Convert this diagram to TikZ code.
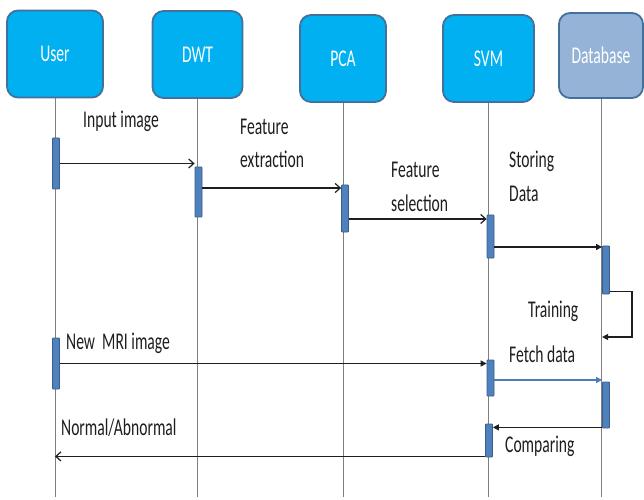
\documentclass[tikz,border=0pt]{standalone}
\usepackage{fontspec}
\setmainfont{Carlito}[FakeStretch=0.65]
\usetikzlibrary{arrows.meta}

\definecolor{boxcyan}{HTML}{00B0F0}
\definecolor{boxedge}{HTML}{41719C}
\definecolor{dbfill}{HTML}{95B3D7}
\definecolor{barfill}{HTML}{4F81BD}
\definecolor{baredge}{HTML}{385D8A}
\definecolor{fetchblue}{HTML}{4A7EBB}
\definecolor{ink}{HTML}{1E1E1E}
\definecolor{lifegray}{HTML}{7F7F7F}

\begin{document}
\begin{tikzpicture}[x=1bp,y=-1bp,
  txt/.style={font=\fontsize{24bp}{28bp}\selectfont},
  actor/.style={txt,draw=boxedge,line width=1.8bp,fill=boxcyan,text=white,
    rounded corners=11bp,inner sep=0pt,minimum height=87bp},
  dbactor/.style={actor,fill=dbfill},
  life/.style={draw=lifegray,line width=1bp},
  actbar/.style={draw=baredge,fill=barfill,line width=0.8bp,rounded corners=0.8bp,
    inner sep=0pt,minimum width=7bp},
  msg/.style={draw=ink,line width=1.2bp,-{Straight Barb[length=5bp,width=9bp]}},
  msgf/.style={draw=ink,line width=1.2bp,-{Triangle[length=6bp,width=6bp]}},
  fetch/.style={draw=fetchblue,line width=1.2bp,-{Triangle[length=6bp,width=6bp]}},
  lbl/.style={txt,text=ink,anchor=base west,inner sep=0pt}]

\useasboundingbox (0,0) rectangle (644,500);

% participants
\node[actor,minimum width=96bp] (User) at (55,54) {User};
\node[actor,minimum width=90bp] (DWT) at (197.5,54.5) {DWT};
\node[actor,minimum width=86bp] (PCA) at (343,58.5) {PCA};
\node[actor,minimum width=91bp] (SVM) at (488.5,58.5) {SVM};
\node[dbactor,minimum width=84bp,minimum height=85bp] (DB) at (601,55.5) {Database};

% lifelines
\coordinate (bottom) at (0,497);
\foreach \p in {User,DWT,PCA,SVM,DB}
  \draw[life] (\p.south) -- (\p.south |- bottom);

% activation bars
\node[actbar,minimum height=51bp] (U1) at (56,163.5) {};
\node[actbar,minimum height=50bp] (D1) at (198.5,192) {};
\node[actbar,minimum height=47bp] (P1) at (345,208.5) {};
\node[actbar,minimum height=43bp] (S1) at (490.5,236.5) {};
\node[actbar,minimum height=48bp] (B1) at (606,270) {};
\node[actbar,minimum height=51bp] (U2) at (56,363.5) {};
\node[actbar,minimum height=36bp] (S2) at (490.5,378) {};
\node[actbar,minimum height=46bp] (B2) at (606,405) {};
\node[actbar,minimum height=33bp] (S3) at (489,440.5) {};

% messages
\draw[msg] (U1.east) -- (U1.east -| D1.west);
\draw[msg] ([yshift=4bp]D1.east) -- ([yshift=4bp]D1.east -| P1.west);
\draw[msg] ([yshift=-10.5bp]P1.east) -- ([yshift=-10.5bp]P1.east -| S1.west);
\draw[msgf] ([yshift=-10.5bp]S1.east) -- ([yshift=-10.5bp]S1.east -| B1.west);
\coordinate (loop) at (632,337);
\draw[msgf] ([yshift=3bp]B1.south east) -| (loop) -- (loop -| B1.west);
\draw[msgf] (U2.east) -- (U2.east -| S2.west);
\draw[fetch] ([yshift=-2bp]S2.east) -- ([yshift=-2bp]S2.east -| B2.west);
\draw[msgf] ([yshift=1bp]B2.south west) -- ([yshift=1bp]B2.south west -| S3.east);
\draw[msg] ([yshift=1bp]S3.south west) -- ([yshift=1bp]S3.south west -| User.south);

% message labels
\node[lbl] (l1) at (83,128) {Input image};
\node[lbl] (l2a) at (240,135) {Feature};
\node[lbl] (l2b) at (240,168) {extraction};
\node[lbl] (l3a) at (391,178) {Feature};
\node[lbl] (l3b) at (391,212) {selection};
\node[lbl] (l4a) at (509,168) {Storing};
\node[lbl] (l4b) at (509,202) {Data};
\node[lbl] (l5) at (528,317) {Training};
\node[lbl] (l6) at (66,349) {New\ \ MRI image};
\node[lbl] (l7) at (509,362) {Fetch data};
\node[lbl] (l8) at (61,435) {Normal/Abnormal};
\node[lbl] (l9) at (505,452) {Comparing};
\end{tikzpicture}
\end{document}
